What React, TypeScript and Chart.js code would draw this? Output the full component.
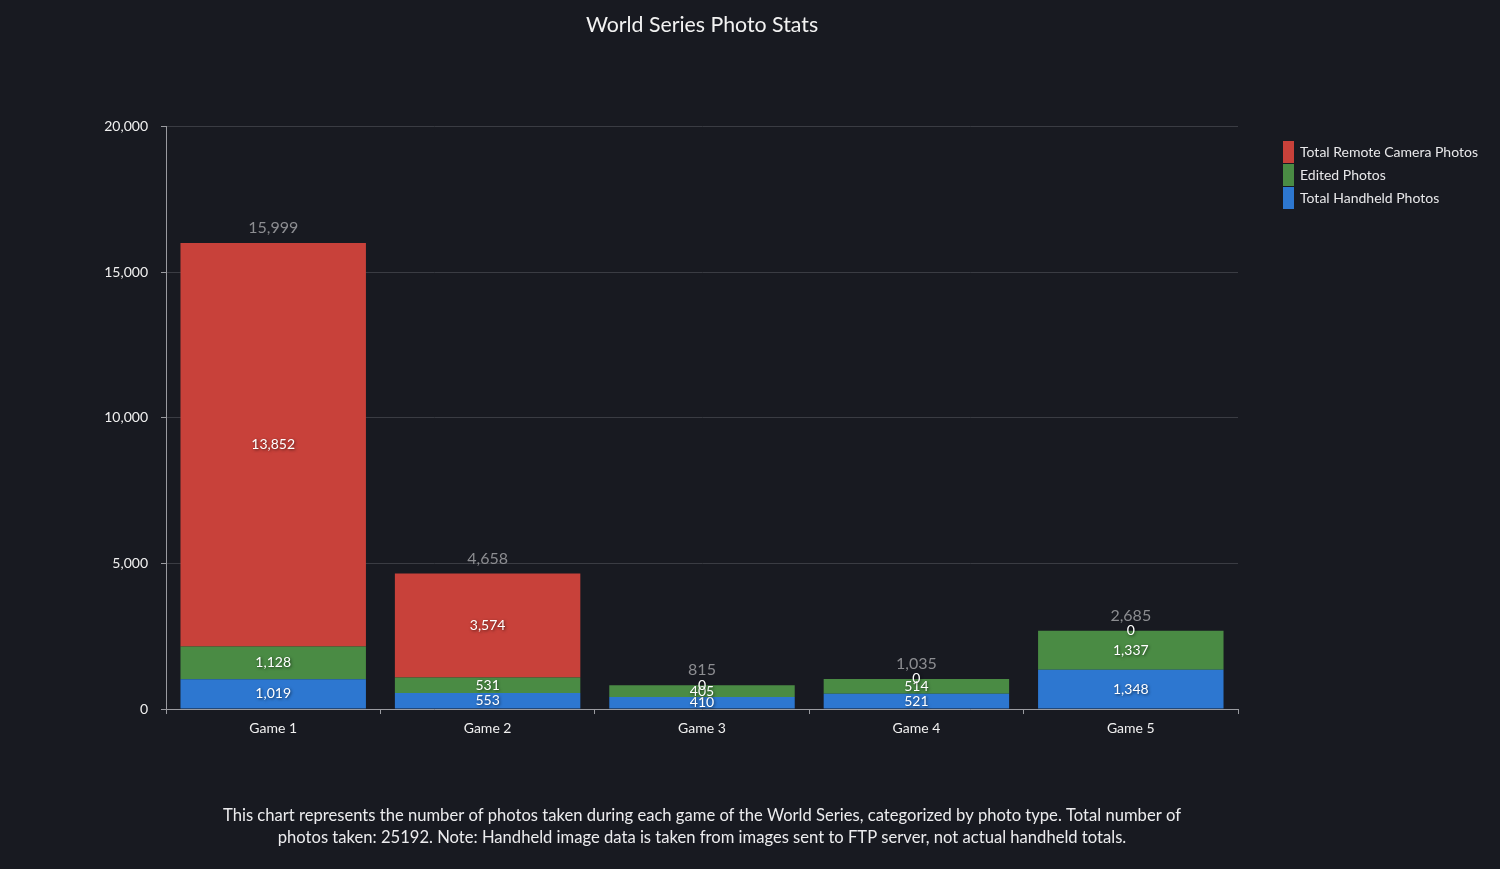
import { useEffect, useRef } from 'react';
import { Chart, registerables } from 'chart.js';

Chart.register(...registerables);

const games = ['Game 1', 'Game 2', 'Game 3', 'Game 4', 'Game 5'];
const handheldPhotos = [1019, 553, 410, 521, 1348];
const editedPhotos = [1128, 531, 405, 514, 1337];
const remotePhotos = [13852, 3574, 0, 0, 0];
const yTicks = [0, 5000, 10000, 15000, 20000];

const captionLines = [
  'This chart represents the number of photos taken during each game of the World Series, categorized by photo type. Total number of',
  'photos taken: 25192. Note: Handheld image data is taken from images sent to FTP server, not actual handheld totals.',
];

const FONT = 'Lato, "Noto Sans", sans-serif';
const BG = '#181a21';

const fmt = (v: number) => v.toLocaleString('en-US');

// segment labels, stack totals and the right-hand legend
const labelPlugin = {
  id: 'photoLabels',
  afterDatasetsDraw(chart: any) {
    const { ctx } = chart;
    ctx.save();
    ctx.textAlign = 'center';
    ctx.textBaseline = 'middle';
    ctx.font = `14px ${FONT}`;
    ctx.fillStyle = '#ffffff';
    ctx.shadowColor = 'rgba(0,0,0,0.6)';
    ctx.shadowBlur = 3;
    ctx.shadowOffsetX = 1;
    ctx.shadowOffsetY = 1;
    chart.data.datasets.forEach((ds: any, di: number) => {
      const meta = chart.getDatasetMeta(di);
      meta.data.forEach((bar: any, i: number) => {
        const v = ds.data[i];
        const yMid = (bar.y + bar.base) / 2;
        ctx.fillText(fmt(v), bar.x, yMid);
      });
    });
    ctx.shadowColor = 'transparent';
    ctx.font = `16px ${FONT}`;
    ctx.fillStyle = '#8c8d91';
    const top = chart.getDatasetMeta(chart.data.datasets.length - 1);
    top.data.forEach((bar: any, i: number) => {
      const total = handheldPhotos[i] + editedPhotos[i] + remotePhotos[i];
      ctx.fillText(fmt(total), bar.x, bar.y - 15);
    });

    // legend (reverse of stacking order)
    const lx = chart.chartArea.right + 45;
    let ly = 141;
    ctx.textAlign = 'left';
    ctx.font = `14px ${FONT}`;
    [...chart.data.datasets].reverse().forEach((ds: any) => {
      ctx.fillStyle = ds.backgroundColor;
      ctx.fillRect(lx, ly, 11, 22);
      ctx.fillStyle = '#e8e8ea';
      ctx.fillText(ds.label, lx + 17, ly + 11);
      ly += 23;
    });
    ctx.restore();
  },
};

export default function App() {
  const canvasRef = useRef<HTMLCanvasElement | null>(null);

  useEffect(() => {
    document.body.style.margin = '0';
    document.body.style.background = BG;
    if (!canvasRef.current) return;

    const chart = new Chart(canvasRef.current, {
      type: 'bar',
      data: {
        labels: games,
        datasets: [
          { label: 'Total Handheld Photos', data: handheldPhotos, backgroundColor: '#2d77d0' },
          { label: 'Edited Photos', data: editedPhotos, backgroundColor: '#4a8b44' },
          { label: 'Total Remote Camera Photos', data: remotePhotos, backgroundColor: '#c8413a' },
        ],
      },
      options: {
        animation: false,
        responsive: false,
        maintainAspectRatio: false,
        layout: { padding: { left: 102, right: 262, top: 0, bottom: 0 } },
        datasets: {
          bar: { categoryPercentage: 1, barPercentage: 0.865 },
        },
        scales: {
          x: {
            stacked: true,
            border: { color: '#9a9ba0' },
            grid: {
              display: true,
              drawOnChartArea: false,
              tickLength: 5,
              color: '#9a9ba0',
              offset: true,
            },
            ticks: { color: '#f0f0f0', font: { family: FONT, size: 14 }, padding: 6 },
          },
          y: {
            stacked: true,
            min: 0,
            max: 20000,
            afterFit: (scale: any) => {
              scale.width = 64;
            },
            afterBuildTicks: (scale: any) => {
              scale.ticks = yTicks.map((v) => ({ value: v }));
            },
            border: { color: '#9a9ba0' },
            grid: { color: '#3a3c43', tickLength: 5, tickColor: '#9a9ba0' },
            ticks: {
              color: '#f0f0f0',
              font: { family: FONT, size: 14 },
              padding: 13,
              callback: (v: any) => fmt(Number(v)),
            },
          },
        },
        plugins: {
          legend: { display: false },
          tooltip: { enabled: false },
          title: {
            display: true,
            fullSize: false,
            text: 'World Series Photo Stats',
            color: '#f2f2f2',
            font: { family: FONT, size: 21.3, weight: 'normal' },
            padding: { top: 12, bottom: 89 },
          },
          subtitle: {
            display: true,
            fullSize: false,
            position: 'bottom',
            text: captionLines,
            color: '#ececee',
            font: { family: FONT, size: 16.6, weight: 'normal', lineHeight: 1.33 },
            padding: { top: 62, bottom: 20 },
          },
        },
      },
      plugins: [labelPlugin],
    });

    return () => chart.destroy();
  }, []);

  return (
    <div style={{ width: 1500, height: 869, background: BG }}>
      <canvas ref={canvasRef} width={1500} height={869} style={{ display: 'block' }} />
    </div>
  );
}
